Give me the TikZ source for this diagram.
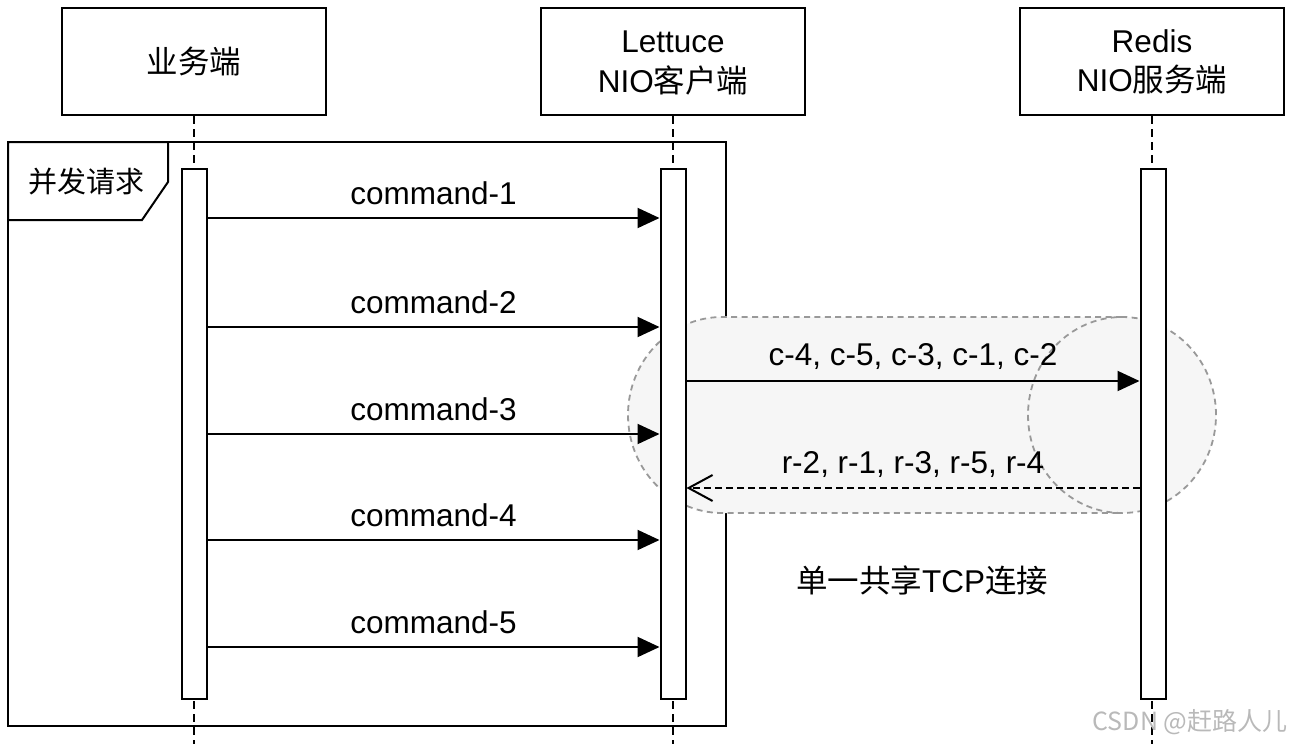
\documentclass[tikz,border=0pt]{standalone}
\usepackage{fontspec}
\setmainfont{Liberation Sans}
\newfontfamily\cjk{Noto Sans CJK SC}
\usetikzlibrary{arrows.meta}

\begin{document}
\begin{tikzpicture}[x=0.5pt,y=-0.5pt,
	actor/.style={draw,line width=1pt,minimum width=132pt,minimum height=53.5pt,align=center,font=\fontsize{15.75}{17.5}\selectfont},
	bar/.style={draw,fill=white,line width=1pt,minimum width=12.5pt,minimum height=265pt,inner sep=0pt},
	life/.style={line width=1pt,dash pattern=on 4pt off 2.5pt},
	msg/.style={line width=1pt,-{Triangle[length=11pt,width=10pt]}},
	reply/.style={line width=1pt,dash pattern=on 3.5pt off 2pt,-{Straight Barb[length=12pt,width=13pt]}},
	pipe/.style={gray!80,line width=0.9pt,dash pattern=on 3pt off 2.2pt},
	lbl/.style={font=\fontsize{15.75}{17.5}\selectfont}]
	\useasboundingbox (0,0) rectangle (1290,744);

	% Participants
	\node[actor] (biz) at (194,61.5) {{\cjk 业务端}};
	\node[actor] (lettuce) at (673,61.5) {\strut Lettuce\\NIO{\cjk 客户端}};
	\node[actor] (redis) at (1152,61.5) {\strut Redis\\NIO{\cjk 服务端}};
	\coordinate (bottom) at (0,744);

	% Lifelines
	\draw[life] (biz.south) -- (biz.south |- bottom);
	\draw[life] (lettuce.south) -- (lettuce.south |- bottom);
	\draw[life] (redis.south) -- (redis.south |- bottom);

	% Frame
	\draw[line width=1pt] (8,142) rectangle (726,726);
	\draw[line width=1pt,fill=white] (8,142) -- (168,142) -- (168,182) -- (142,220) -- (8,220) -- cycle;
	\node[font=\fontsize{14.5}{17}\selectfont\cjk] (par) at (86,182) {并发请求};

	% Shared connection
	\fill[gray!7] (722,317) -- (1122,317) arc[start angle=90,end angle=-90,x radius=47pt,y radius=49pt]
		-- (722,513) arc[start angle=270,end angle=90,x radius=47pt,y radius=49pt] -- cycle;
	\draw[pipe] (1122,317) -- (722,317) arc[start angle=90,end angle=270,x radius=47pt,y radius=49pt] -- (1122,513);
	\draw[pipe] (1122,415) ellipse[x radius=47pt,y radius=49pt];
	\node[lbl] (tcp) at (922,580) {{\cjk 单一共享}TCP{\cjk 连接}};

	% Activations
	\node[bar] (bizBar) at (194,434) {};
	\node[bar] (lettuceBar) at (673,434) {};
	\node[bar] (redisBar) at (1153,434) {};

	% Messages
	\coordinate (m1) at (0,218);
	\coordinate (m2) at (0,327);
	\coordinate (m3) at (0,434);
	\coordinate (m4) at (0,540);
	\coordinate (m5) at (0,647);
	\coordinate (send) at (0,381);
	\coordinate (back) at (0,488);
	\draw[msg] (bizBar.east |- m1) -- (lettuceBar.west |- m1) node[lbl,midway,yshift=12.5pt] {command-1};
	\draw[msg] (bizBar.east |- m2) -- (lettuceBar.west |- m2) node[lbl,midway,yshift=12.5pt] {command-2};
	\draw[msg] (bizBar.east |- m3) -- (lettuceBar.west |- m3) node[lbl,midway,yshift=12.5pt] {command-3};
	\draw[msg] (bizBar.east |- m4) -- (lettuceBar.west |- m4) node[lbl,midway,yshift=12.5pt] {command-4};
	\draw[msg] (bizBar.east |- m5) -- (lettuceBar.west |- m5) node[lbl,midway,yshift=12.5pt] {command-5};
	\draw[msg] (lettuceBar.east |- send) -- (redisBar.west |- send) node[lbl,midway,yshift=12pt] {c-4, c-5, c-3, c-1, c-2};
	\draw[reply] (redisBar.west |- back) -- (lettuceBar.east |- back) node[lbl,midway,yshift=11.5pt] {r-2, r-1, r-3, r-5, r-4};

	% Watermark
	\node[gray!55,font=\fontsize{12.5}{15}\selectfont\cjk] (mark) at (1190,722) {CSDN @赶路人儿};
\end{tikzpicture}
\end{document}
